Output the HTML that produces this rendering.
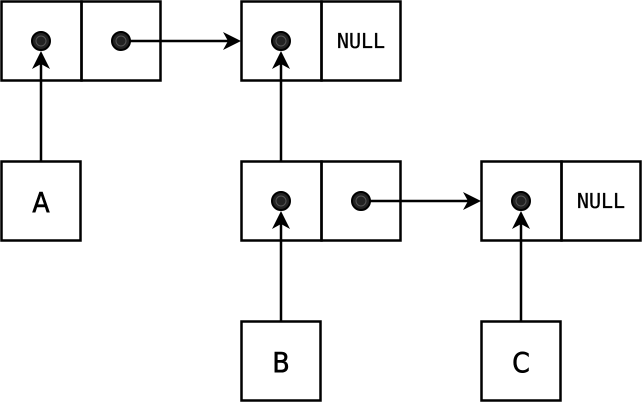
<!DOCTYPE html>
<html><head><style>body{margin:0;background:#fff}svg{display:block}</style></head><body>
<svg width="642" height="412" viewBox="0 0 642 412" xmlns="http://www.w3.org/2000/svg">
<g fill="none" stroke="#000" stroke-width="2.5">
<rect x="1.5" y="1.5" width="80" height="79"/><rect x="81.5" y="1.5" width="79" height="79"/>
<rect x="241.5" y="1.5" width="80" height="79"/><rect x="321.5" y="1.5" width="79" height="79"/>
<rect x="1.5" y="161.5" width="79" height="79"/>
<rect x="241.5" y="161.5" width="80" height="79"/><rect x="321.5" y="161.5" width="79" height="79"/>
<rect x="481.5" y="161.5" width="80" height="79"/><rect x="561.5" y="161.5" width="79" height="79"/>
<rect x="241.5" y="321.5" width="79" height="79"/><rect x="481.5" y="321.5" width="79" height="79"/>
<line x1="121" y1="41" x2="228" y2="41"/>
<line x1="361" y1="201" x2="468" y2="201"/>
<line x1="41" y1="161" x2="41" y2="64"/>
<line x1="281" y1="161" x2="281" y2="64"/>
<line x1="281" y1="321" x2="281" y2="224"/>
<line x1="521" y1="321" x2="521" y2="224"/>
</g>
<g fill="#000">
<path d="M241,41 L223,32 L228,41 L223,50 Z"/>
<path d="M481,201 L463,192 L468,201 L463,210 Z"/>
<path d="M41,51 L32,69 L41,64 L50,69 Z"/>
<path d="M281,51 L272,69 L281,64 L290,69 Z"/>
<path d="M281,211 L272,229 L281,224 L290,229 Z"/>
<path d="M521,211 L512,229 L521,224 L530,229 Z"/>
</g>
<g fill="#222" stroke="#000" stroke-width="2">
<circle cx="41" cy="41" r="9"/><circle cx="121" cy="41" r="9"/><circle cx="281" cy="41" r="9"/>
<circle cx="281" cy="201" r="9"/><circle cx="361" cy="201" r="9"/><circle cx="521" cy="201" r="9"/>
</g>
<g fill="none" stroke="#555" stroke-width="1">
<circle cx="41" cy="41" r="5"/><circle cx="121" cy="41" r="5"/><circle cx="281" cy="41" r="5"/>
<circle cx="281" cy="201" r="5"/><circle cx="361" cy="201" r="5"/><circle cx="521" cy="201" r="5"/>
</g>
<g font-family="'DejaVu Sans Condensed','Liberation Sans',sans-serif" font-size="28" text-anchor="middle" fill="#000" stroke="#000" stroke-width="0.6">
<text x="41" y="212">A</text><text x="281" y="372">B</text><text x="521" y="372">C</text>
</g>
<g font-family="'DejaVu Sans Mono','Liberation Mono',monospace" font-size="20" text-anchor="middle" fill="#000" stroke="#000" stroke-width="0.3">
<text x="361" y="48">NULL</text><text x="601" y="208">NULL</text>
</g>
</svg>
</body></html>
